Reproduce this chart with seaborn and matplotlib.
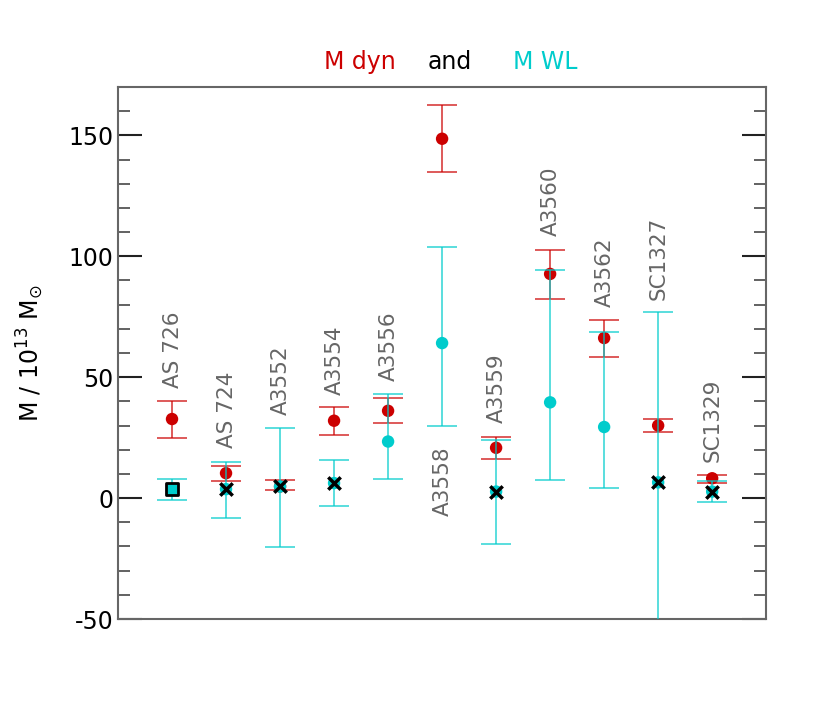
import numpy as np
import pandas as pd
import matplotlib
matplotlib.use("Agg")
import matplotlib.pyplot as plt
import seaborn as sns
from matplotlib.ticker import MultipleLocator

# ---- data ----
clusters = ["AS 726", "AS 724", "A3552", "A3554", "A3556", "A3558",
            "A3559", "A3560", "A3562", "SC1327", "SC1329"]
xpos = [1, 2, 3, 4, 5, 6, 7, 8, 9, 10, 11]
m_dyn = [32.7, 10.3, 4.8, 32.0, 36.1, 148.6, 20.8, 92.7, 66.2, 30.0, 8.2]
m_dyn_hi = [40.3, 13.3, 7.6, 37.6, 41.4, 162.5, 25.4, 102.8, 73.8, 32.8, 9.6]
m_dyn_lo = [24.8, 7.1, 3.4, 26.0, 31.0, 135.0, 16.3, 82.4, 58.3, 27.3, 6.2]
m_wl = [3.7, 3.7, 4.8, 6.2, 23.4, 64.1, 2.7, 39.6, 29.4, 6.5, 2.7]
m_wl_hi = [8.1, 15.1, 29.0, 15.6, 43.2, 103.9, 24.1, 94.5, 68.6, 76.8, 6.9]
m_wl_lo = [-0.7, -8.2, -20.3, -3.1, 8.0, 30.0, -18.8, 7.6, 4.0, -60.0, -1.8]
wl_kind = ["square", "cross", "cross", "cross", "dot", "dot",
           "cross", "dot", "dot", "cross", "cross"]
label_y = [45.6, 20.8, 34.5, 42.7, 48.3, -7.6, 31.0, 108.3, 78.9, 82.1, 15.1]

df = pd.DataFrame({"x": xpos, "name": clusters, "dyn": m_dyn,
                   "dyn_hi": m_dyn_hi, "dyn_lo": m_dyn_lo, "wl": m_wl,
                   "wl_hi": m_wl_hi, "wl_lo": m_wl_lo, "kind": wl_kind,
                   "ly": label_y})

RED = "#cc0000"
CYAN = "#00cccc"

sns.set_style("white")
plt.rcParams["font.family"] = ["DejaVu Sans"]
plt.rcParams["axes.unicode_minus"] = False
plt.rcParams["text.color"] = "black"
plt.rcParams["axes.labelcolor"] = "black"
plt.rcParams["ytick.labelcolor"] = "black"

fig = plt.figure(figsize=(8.31, 7.12), dpi=100)
ax = fig.add_axes([0.142, 0.1306, 0.780, 0.7472])

# red errorbars + markers
ax.errorbar(df["x"], df["dyn"],
            yerr=[df["dyn"] - df["dyn_lo"], df["dyn_hi"] - df["dyn"]],
            fmt="none", ecolor=RED, alpha=0.7, elinewidth=1.3,
            capsize=11, capthick=1.3, zorder=2)
sns.scatterplot(data=df, x="x", y="dyn", color=RED, s=80,
                edgecolor="none", ax=ax, zorder=3, legend=False)

# cyan errorbars + markers
ax.errorbar(df["x"], df["wl"],
            yerr=[df["wl"] - df["wl_lo"], df["wl_hi"] - df["wl"]],
            fmt="none", ecolor=CYAN, alpha=0.7, elinewidth=1.3,
            capsize=11, capthick=1.3, zorder=4)
dots = df[df["kind"] != "square"]
sns.scatterplot(data=dots, x="x", y="wl", color=CYAN, s=80,
                edgecolor="none", ax=ax, zorder=5, legend=False)
sq = df[df["kind"] == "square"]
sns.scatterplot(data=sq, x="x", y="wl", color=CYAN, marker="s", s=85,
                edgecolor="black", linewidth=2, ax=ax, zorder=6, legend=False)
cr = df[df["kind"] == "cross"]
sns.scatterplot(data=cr, x="x", y="wl", color="black", marker="x", s=80,
                linewidth=2.5, ax=ax, zorder=7, legend=False)

# cluster labels
for _, r in df.iterrows():
    ax.text(r["x"] + 0.01, r["ly"], r["name"], rotation=90, ha="center",
            va="bottom", fontsize=15.5, color="#666666", zorder=8)

ax.set_xlim(0, 12)
ax.set_ylim(-50, 170)
ax.set_xticks([])
ax.yaxis.set_major_locator(MultipleLocator(50))
ax.yaxis.set_minor_locator(MultipleLocator(10))
ax.tick_params(axis="y", which="both", direction="in", left=True, right=True,
               labelsize=17, labelcolor="black")
ax.tick_params(axis="y", which="major", length=17, width=1.5, color="#222222")
ax.tick_params(axis="y", which="minor", length=8.5, width=1.3, color="#555555")
for s in ax.spines.values():
    s.set_color("#666666")
    s.set_linewidth(1.5)
ax.set_xlabel("")
ax.set_ylabel(r"M / 10$^{13}$ M$_{\odot}$", fontsize=17, labelpad=16,
              color="black")

fig.text(0.4326, 0.913, "M dyn", color=RED, fontsize=17, ha="center", va="center")
fig.text(0.5415, 0.913, "and", color="black", fontsize=17, ha="center", va="center")
fig.text(0.656, 0.913, "M WL", color=CYAN, fontsize=17, ha="center", va="center")

fig.savefig("out.png", dpi=100)
